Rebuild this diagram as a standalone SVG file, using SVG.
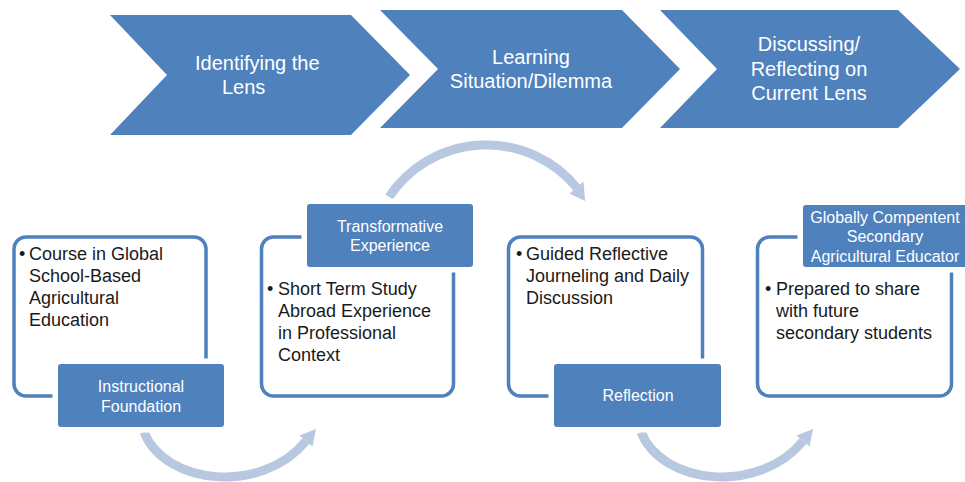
<svg xmlns="http://www.w3.org/2000/svg" width="965" height="482" viewBox="0 0 965 482">
<style>
.chev{fill:#4f81bd;}
.ct{font-family:"Liberation Sans",Arial,sans-serif;font-size:20px;fill:#ffffff;}
.box{fill:#ffffff;stroke:#4f81bd;stroke-width:3.5;}
.lab{fill:#4f81bd;stroke:#ffffff;stroke-width:11;paint-order:stroke;}
.lt{font-family:"Liberation Sans",Arial,sans-serif;font-size:16px;fill:#ffffff;text-anchor:middle;}
.bt{font-family:"Liberation Sans",Arial,sans-serif;font-size:18px;fill:#1a1a1a;}
.arc{fill:none;stroke:#b8c8e0;stroke-width:9;}
.head{fill:#b8c8e0;}
</style>
<rect width="965" height="482" fill="#ffffff"/>
<g id="connectors">
<path class="arc" d="M144 432 C165 485 262 495 306 441"/>
<polygon class="head" points="316,429 312.5,446.5 299.5,435.5"/>
<path class="arc" d="M389 197 A117 117 0 0 1 577 188"/>
<polygon class="head" points="585,201 583.5,181.5 569.5,193.5"/>
<path class="arc" d="M641 432 C662 485 759 495 803 441"/>
<polygon class="head" points="813,429 809.5,446.5 796.5,435.5"/>
</g>
<g id="chevron1">
<polygon class="chev" points="110,15 351,15 410,75 351,135 110,135 167,75"/>
<text class="ct" x="195" y="70">Identifying the</text>
<text class="ct" x="222" y="94">Lens</text>
</g>
<g id="chevron2">
<polygon class="chev" points="380,10 622,10 680,69 622,128 380,128 438,69"/>
<text class="ct" x="531" y="64" text-anchor="middle">Learning</text>
<text class="ct" x="531" y="88" text-anchor="middle">Situation/Dilemma</text>
</g>
<g id="chevron3">
<polygon class="chev" points="660,10 898,10 960,69 898,128 660,128 717,69"/>
<text class="ct" x="809" y="51" text-anchor="middle">Discussing/</text>
<text class="ct" x="809" y="76" text-anchor="middle">Reflecting on</text>
<text class="ct" x="809" y="100" text-anchor="middle">Current Lens</text>
</g>
<g id="box1">
<rect class="box" x="14" y="237" width="192" height="159" rx="12"/>
<text class="bt"><tspan x="19" y="260">•</tspan><tspan x="29" y="260">Course in Global</tspan><tspan x="29" y="282">School-Based</tspan><tspan x="29" y="304">Agricultural</tspan><tspan x="29" y="326">Education</tspan></text>
<rect class="lab" x="58" y="364" width="166" height="63" rx="3"/>
<text class="lt" x="141" y="392">Instructional</text>
<text class="lt" x="141" y="412">Foundation</text>
</g>
<g id="box2">
<rect class="box" x="261.5" y="237" width="192" height="159" rx="12"/>
<text class="bt"><tspan x="267" y="295">•</tspan><tspan x="278" y="295">Short Term Study</tspan><tspan x="278" y="317">Abroad Experience</tspan><tspan x="278" y="339">in Professional</tspan><tspan x="278" y="361">Context</tspan></text>
<rect class="lab" x="307" y="204" width="166" height="63" rx="3"/>
<text class="lt" x="390" y="232">Transformative</text>
<text class="lt" x="390" y="251">Experience</text>
</g>
<g id="box3">
<rect class="box" x="508.5" y="237" width="194" height="159" rx="12"/>
<text class="bt"><tspan x="516" y="260">•</tspan><tspan x="526" y="260">Guided Reflective</tspan><tspan x="526" y="282">Journeling and Daily</tspan><tspan x="526" y="304">Discussion</tspan></text>
<rect class="lab" x="554" y="364" width="167" height="63" rx="3"/>
<text class="lt" x="638" y="401">Reflection</text>
</g>
<g id="box4">
<rect class="box" x="757.5" y="237" width="194" height="159" rx="12"/>
<text class="bt"><tspan x="765" y="295">•</tspan><tspan x="776" y="295">Prepared to share</tspan><tspan x="776" y="317">with future</tspan><tspan x="776" y="339">secondary students</tspan></text>
<rect class="lab" x="803" y="205" width="166" height="62" rx="3"/>
<text class="lt" x="885" y="223">Globally Compentent</text>
<text class="lt" x="885" y="242">Secondary</text>
<text class="lt" x="885" y="262">Agricultural Educator</text>
</g>
</svg>
